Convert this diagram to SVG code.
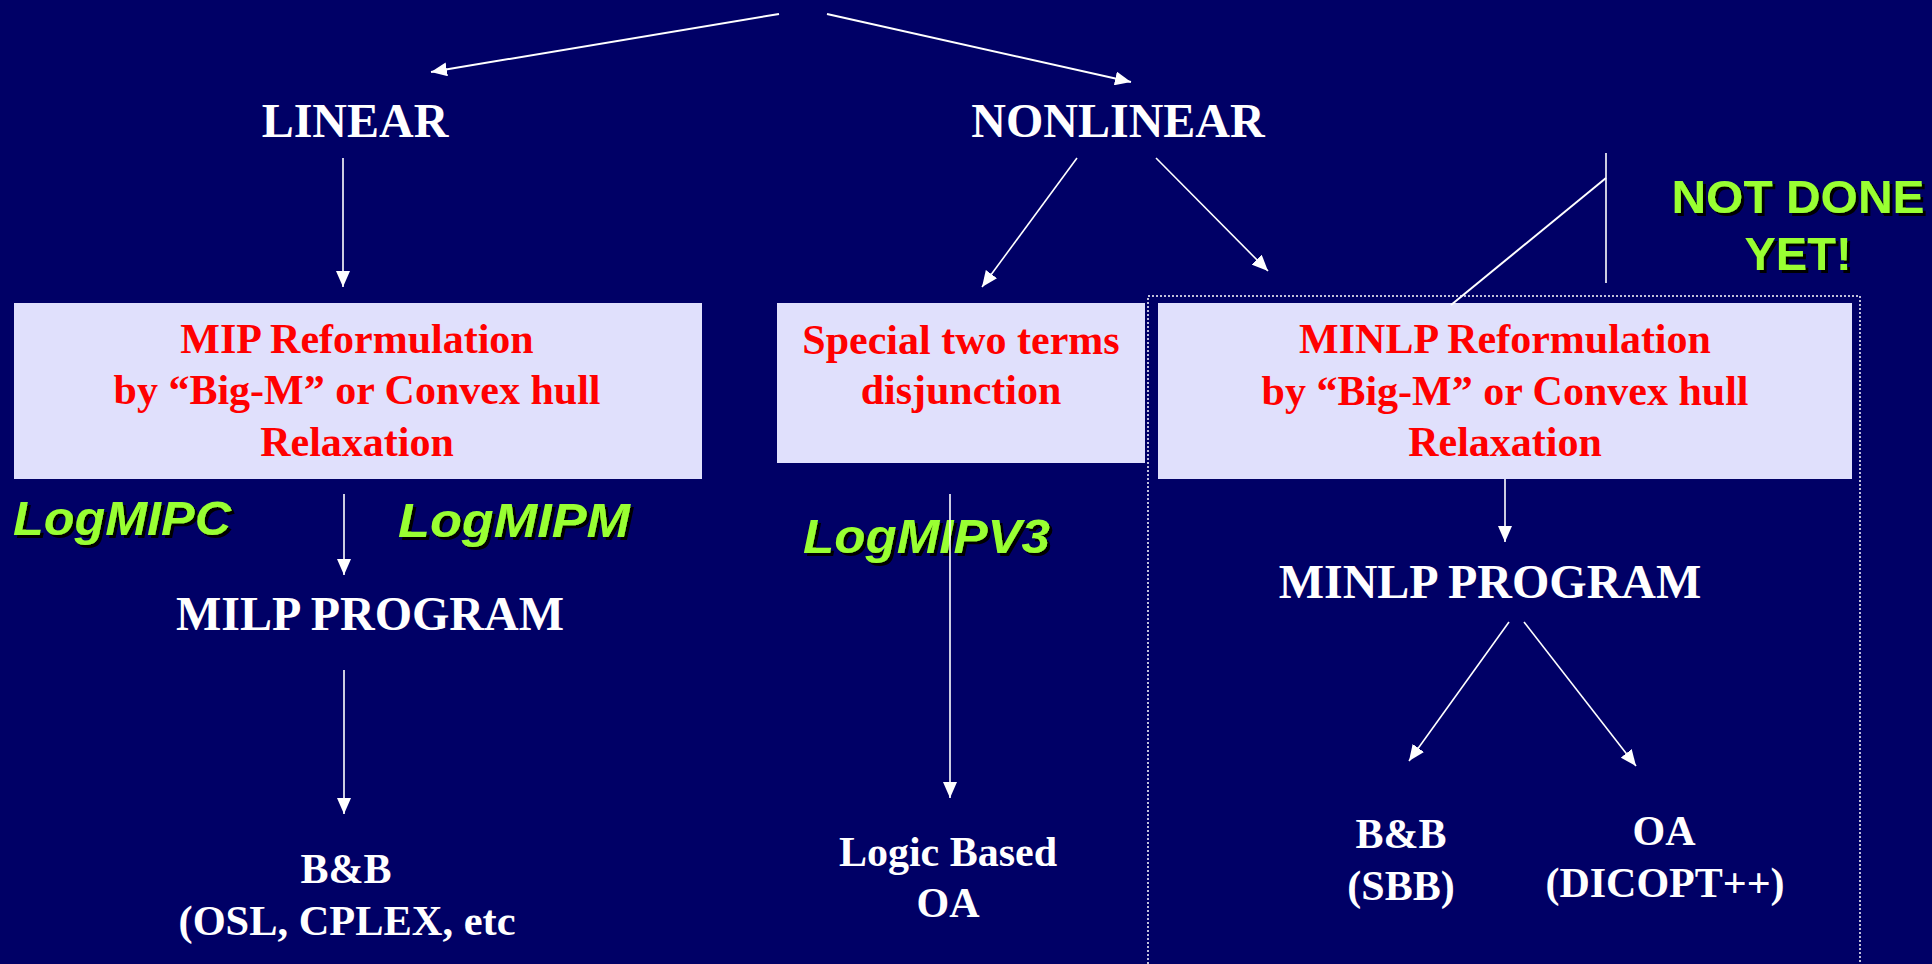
<svg xmlns="http://www.w3.org/2000/svg" width="1932" height="964" viewBox="0 0 1932 964">
<defs>
<marker id="ah" markerUnits="userSpaceOnUse" markerWidth="16" markerHeight="14" refX="16" refY="7" orient="auto">
<path d="M0,0 L16,7 L0,14 z" fill="#ffffff"/>
</marker>
<filter id="sh" x="-5%" y="-5%" width="115%" height="125%">
<feDropShadow dx="3" dy="3" stdDeviation="0" flood-color="#000000" flood-opacity="1"/>
</filter>
</defs>
<style>
.bg{fill:#000066}
.box{fill:#e0e0fc}
.wt{font-family:"Liberation Serif","Times New Roman",serif;font-weight:bold;fill:#ffffff;text-anchor:middle}
.rt{font-family:"Liberation Serif","Times New Roman",serif;font-weight:bold;fill:#ff0000;text-anchor:middle;font-size:42px}
.gt{font-family:"Liberation Sans",Arial,sans-serif;font-weight:bold;font-style:italic;fill:#99ff33;font-size:48px;filter:url(#sh)}
.nd{font-family:"Liberation Sans",Arial,sans-serif;font-weight:bold;fill:#99ff33;font-size:47px;text-anchor:middle;filter:url(#sh)}
.cn line{stroke:#ffffff;stroke-width:1.6;fill:none}
.cn line.a{marker-end:url(#ah)}
.dot{fill:none;stroke:#ffffff;stroke-width:1.5;stroke-dasharray:2 2}
</style>
<rect class="bg" x="0" y="0" width="1932" height="964"/>

<rect class="dot" x="1148" y="296" width="712" height="700"/>

<g id="linear"><text class="wt" x="355" y="137" font-size="48">LINEAR</text></g>
<g id="nonlinear"><text class="wt" x="1118" y="137" font-size="48">NONLINEAR</text></g>

<g id="notdone">
<text class="nd" x="1798" y="213" textLength="253" lengthAdjust="spacingAndGlyphs">NOT DONE</text>
<text class="nd" x="1798" y="270">YET!</text>
</g>

<g id="mip">
<rect class="box" x="14" y="303" width="688" height="176"/>
<text class="rt" x="357" y="353">MIP Reformulation</text>
<text class="rt" x="357" y="404">by “Big-M” or Convex hull</text>
<text class="rt" x="357" y="456">Relaxation</text>
</g>

<g id="special">
<rect class="box" x="777" y="303" width="368" height="160"/>
<text class="rt" x="961" y="354" font-size="44">Special two terms</text>
<text class="rt" x="961" y="404" font-size="44">disjunction</text>
</g>

<g id="minlp">
<rect class="box" x="1158" y="303" width="694" height="176"/>
<text class="rt" x="1505" y="353">MINLP Reformulation</text>
<text class="rt" x="1505" y="405">by “Big-M” or Convex hull</text>
<text class="rt" x="1505" y="456">Relaxation</text>
</g>

<g id="logmipc"><text class="gt" x="13" y="535" textLength="218" lengthAdjust="spacingAndGlyphs">LogMIPC</text></g>
<g id="logmipm"><text class="gt" x="398" y="537" textLength="232" lengthAdjust="spacingAndGlyphs">LogMIPM</text></g>
<g id="logmipv3"><text class="gt" x="803" y="553" textLength="247" lengthAdjust="spacingAndGlyphs">LogMIPV3</text></g>

<g id="milp"><text class="wt" x="370" y="630" font-size="48">MILP PROGRAM</text></g>
<g id="minlpprog"><text class="wt" x="1490" y="598" font-size="48">MINLP PROGRAM</text></g>

<g id="bb1">
<text class="wt" x="346" y="883" font-size="42">B&amp;B</text>
<text class="wt" x="347" y="935" font-size="42" textLength="337" lengthAdjust="spacingAndGlyphs">(OSL, CPLEX, etc</text>
</g>
<g id="lboa">
<text class="wt" x="948" y="866" font-size="42">Logic Based</text>
<text class="wt" x="948" y="917" font-size="42">OA</text>
</g>
<g id="bb2">
<text class="wt" x="1401" y="848" font-size="42">B&amp;B</text>
<text class="wt" x="1401" y="900" font-size="42">(SBB)</text>
</g>
<g id="oa">
<text class="wt" x="1664" y="845" font-size="42">OA</text>
<text class="wt" x="1665" y="897" font-size="42">(DICOPT++)</text>
</g>

<g id="connectors" class="cn">
<line class="a" x1="779" y1="14" x2="431" y2="72" style="stroke-width:2"/>
<line class="a" x1="827" y1="14" x2="1131" y2="82" style="stroke-width:2"/>
<line class="a" x1="343" y1="158" x2="343" y2="287"/>
<line class="a" x1="1077" y1="158" x2="982" y2="287"/>
<line class="a" x1="1156" y1="158" x2="1268" y2="271"/>
<line x1="1606" y1="153" x2="1606" y2="283"/>
<line x1="1606" y1="178" x2="1451" y2="305" style="stroke-width:2"/>
<line class="a" x1="344" y1="494" x2="344" y2="575"/>
<line class="a" x1="344" y1="670" x2="344" y2="814"/>
<line class="a" x1="950" y1="494" x2="950" y2="798"/>
<line class="a" x1="1505" y1="479" x2="1505" y2="542"/>
<line class="a" x1="1509" y1="622" x2="1409" y2="761"/>
<line class="a" x1="1524" y1="622" x2="1636" y2="766"/>
</g>
</svg>
